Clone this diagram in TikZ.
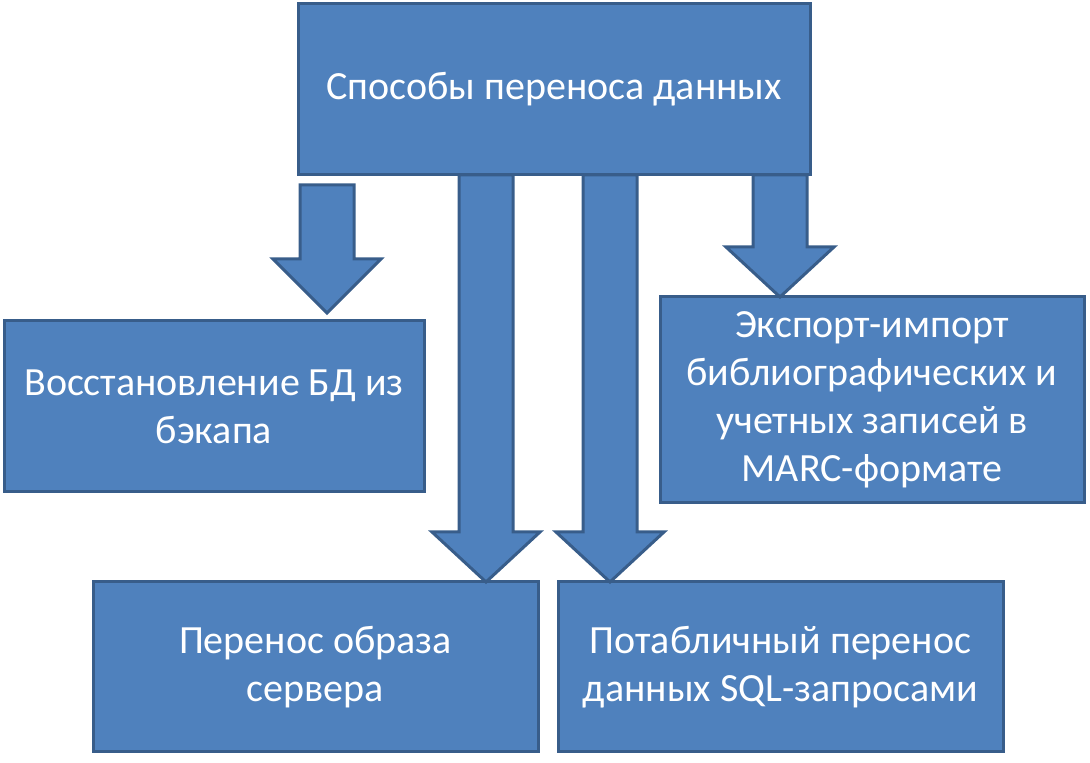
\documentclass[tikz,border=0pt]{standalone}
\usepackage{fontspec}
\setmainfont{Carlito}
\usetikzlibrary{calc}
\definecolor{boxfill}{HTML}{4F81BD}
\definecolor{boxline}{HTML}{385D8A}
\tikzset{
  box/.style={draw=boxline, line width=3pt, fill=boxfill, text=white, align=center,
    inner sep=0pt, font=\fontsize{40}{48}\selectfont},
  blockarrow/.style={draw=boxline, line width=3pt, fill=boxfill, line join=miter}
}
% \barrow{xc}{ytop}{yhead}{ytip}  (pt, y up)
\newcommand{\barrow}[4]{%
  \draw[blockarrow] (#1pt-27pt,#2pt) -- (#1pt+27pt,#2pt) -- (#1pt+27pt,#3pt)
    -- (#1pt+54pt,#3pt) -- (#1pt,#4pt) -- (#1pt-54pt,#3pt) -- (#1pt-27pt,#3pt) -- cycle;}
\begin{document}
\begin{tikzpicture}[x=1pt,y=1pt]
\useasboundingbox (0,0) rectangle (1090,763);
\node[box, minimum width=512pt, minimum height=171pt] (top) at (554,673.5) {Способы переноса данных};
\node[box, minimum width=420pt, minimum height=171pt] (left) at (214,356.5) {Восстановление БД из\\бэкапа};
\node[box, minimum width=424pt, minimum height=206pt] (right) at (872,363) {Экспорт-импорт\\библиографических и\\учетных записей в\\MARC-формате};
\node[box, minimum width=445pt, minimum height=170pt] (bl) at (315.5,96) {Перенос образа\\сервера};
\node[box, minimum width=445pt, minimum height=170pt] (br) at (780.5,96) {Потабличный перенос\\данных SQL-запросами};
\barrow{327}{578}{504}{450}
\barrow{486}{588}{231}{181}
\barrow{610}{588}{231}{181}
\barrow{780}{588}{516}{466}
\end{tikzpicture}
\end{document}
